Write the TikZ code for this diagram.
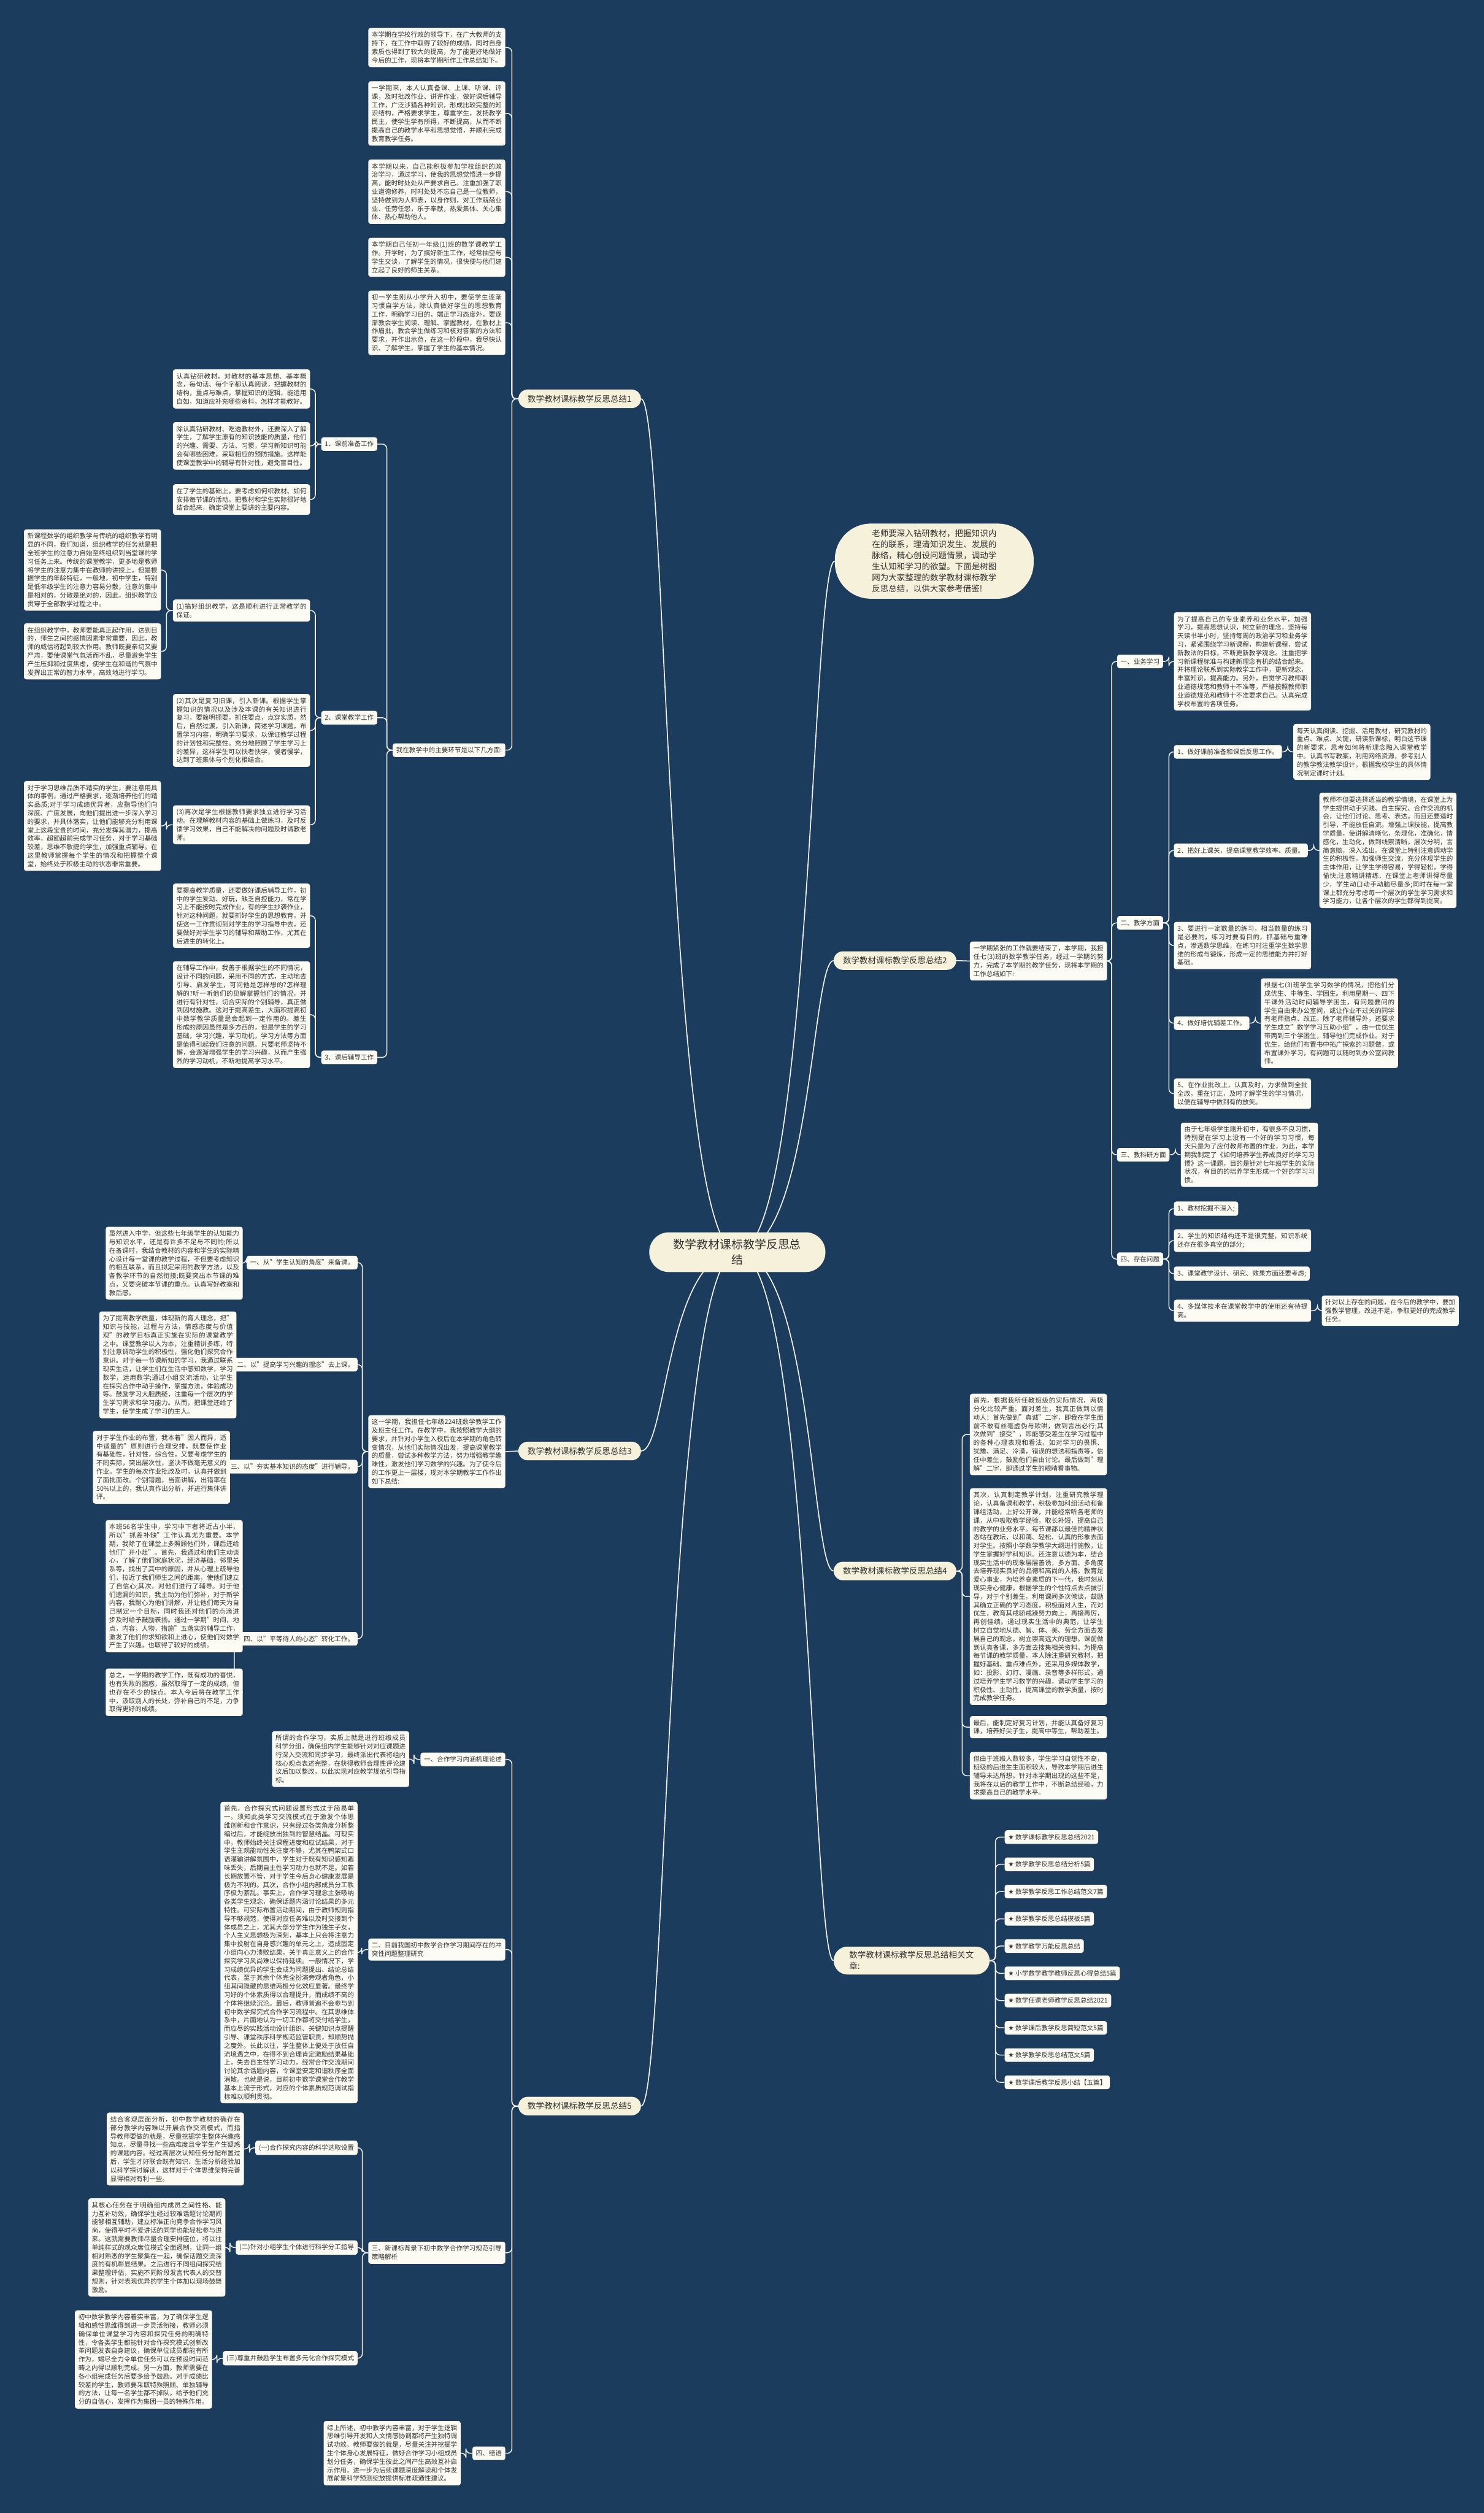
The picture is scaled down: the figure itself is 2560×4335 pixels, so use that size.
\documentclass[tikz,border=0pt]{standalone}
\usepackage{fontspec}
\setmainfont{Noto Sans CJK SC}
\newfontfamily\djv{DejaVu Sans}
\XeTeXlinebreaklocale "zh"
\XeTeXlinebreakskip=0pt plus 1pt
\definecolor{bgc}{HTML}{1B3C5D}
\definecolor{boxc}{HTML}{FCFBF4}
\definecolor{pillc}{HTML}{F6F1DA}
\definecolor{txtc}{HTML}{333333}
\definecolor{linec}{HTML}{F0F0EA}
\pgfdeclarelayer{bgl}
\pgfsetlayers{bgl,main}
\tikzset{
  tbox/.style={fill=boxc, rounded corners=4pt, text=txtc, font=\fontsize{11.2pt}{14.6pt}\selectfont,
    inner xsep=6pt, inner ysep=6.5pt, text width=224.5pt, align=justify},
  tlab/.style={fill=boxc, rounded corners=4pt, text=txtc, font=\fontsize{11.2pt}{14.6pt}\selectfont,
    inner xsep=6pt, inner ysep=6.5pt},
  lpill/.style={fill=pillc, rounded corners=16pt, text=txtc, font=\fontsize{14.3pt}{19pt}\selectfont,
    inner xsep=16pt, inner ysep=4pt, minimum height=32pt},
  rootn/.style={fill=pillc, rounded corners=34pt, text=txtc, font=\fontsize{20pt}{26pt}\selectfont,
    inner xsep=42pt, inner ysep=12pt, align=center},
  cline/.style={draw=linec, line width=1.6pt, rounded corners=8pt},
  curv/.style={draw=linec, line width=1.8pt},
}
\begin{document}
\begin{tikzpicture}[x=1pt,y=-1pt]
\useasboundingbox (0,0) rectangle (2560,4335);
\begin{pgfonlayer}{bgl}
\fill[bgc] (0,0) rectangle (2560,4335);
\end{pgfonlayer}

% ---------- root ----------
\node[rootn] (root) at (1272,2160) {数学教材课标教学反思总\\结};

% ---------- level 1 ----------
\node[lpill, anchor=east] (s1) at (1106,688) {数学教材课标教学反思总结1};
\node[lpill, anchor=east] (s3) at (1106,2503) {数学教材课标教学反思总结3};
\node[lpill, anchor=east] (s5) at (1106,3633) {数学教材课标教学反思总结5};
\node[lpill, anchor=west] (s2) at (1438,1657) {数学教材课标教学反思总结2};
\node[lpill, anchor=west] (s4) at (1438,2710) {数学教材课标教学反思总结4};
\node[fill=pillc, rounded corners=24pt, text=txtc, font=\fontsize{14.3pt}{19pt}\selectfont,
  inner xsep=27pt, inner ysep=8pt, text width=215pt, align=left, anchor=west] (rel) at (1438,3382)
  {数学教材课标教学反思总结相关文章:};
\node[fill=pillc, rounded corners=62pt, text=txtc, font=\fontsize{14.3pt}{19.2pt}\selectfont,
  inner xsep=64pt, inner ysep=10pt, text width=215pt, align=justify, anchor=west] (intro) at (1440,968)
  {老师要深入钻研教材，把握知识内在的联系，理清知识发生、发展的脉络，精心创设问题情景，调动学生认知和学习的欲望。下面是树图网为大家整理的数学教材课标教学反思总结，以供大家参考借鉴!};

% ---------- section 1 ----------
\node[tbox, anchor=north east] (a1) at (872,48) {本学期在学校行政的领导下，在广大教师的支持下，在工作中取得了较好的成绩，同时自身素质也得到了较大的提高，为了能更好地做好今后的工作，现将本学期所作工作总结如下。};
\node[tbox, anchor=north east] (a2) at (872,140) {一学期来，本人认真备课、上课、听课、评课，及时批改作业、讲评作业，做好课后辅导工作，广泛涉猎各种知识，形成比较完整的知识结构，严格要求学生，尊重学生，发扬教学民主，使学生学有所得，不断提高，从而不断提高自己的教学水平和思想觉悟，并顺利完成教育教学任务。};
\node[tbox, anchor=north east] (a3) at (872,275) {本学期以来，自己能积极参加学校组织的政治学习，通过学习，使我的思想觉悟进一步提高，能时时处处从严要求自己。注重加强了职业道德修养，时时处处不忘自己是一位教师，坚持做到为人师表，以身作则，对工作兢兢业业、任劳任怨，乐于奉献，热爱集体、关心集体、热心帮助他人。};
\node[tbox, anchor=north east] (a4) at (872,410) {本学期自己任初一年级(1)班的数学课教学工作。开学时，为了搞好新生工作，经常抽空与学生交谈，了解学生的情况，很快便与他们建立起了良好的师生关系。};
\node[tbox, anchor=north east] (a5) at (872,501) {初一学生刚从小学升入初中，要使学生逐渐习惯自学方法，除认真做好学生的思想教育工作，明确学习目的，端正学习态度外，要逐渐教会学生阅读、理解、掌握教材，在教材上作眉批，教会学生做练习和核对答案的方法和要求，并作出示范，在这一阶段中，我尽快认识、了解学生，掌握了学生的基本情况。};
\node[tlab, anchor=east] (m1) at (872,1294) {我在教学中的主要环节是以下几方面:};
\node[tlab, anchor=east] (b1) at (651,766) {1、课前准备工作};
\node[tlab, anchor=east] (b2) at (651,1238) {2、课堂教学工作};
\node[tlab, anchor=east] (b3) at (651,1824) {3、课后辅导工作};
\node[tbox, anchor=north east] (c11) at (535,637) {认真钻研教材，对教材的基本思想、基本概念，每句话、每个字都认真阅读，把握教材的结构，重点与难点，掌握知识的逻辑，能运用自如，知道应补充哪些资料，怎样才能教好。};
\node[tbox, anchor=north east] (c12) at (535,728) {除认真钻研教材、吃透教材外，还要深入了解学生，了解学生原有的知识技能的质量，他们的兴趣、需要、方法、习惯，学习新知识可能会有哪些困难，采取相应的预防措施。这样能使课堂教学中的辅导有针对性，避免盲目性。};
\node[tbox, anchor=north east] (c13) at (535,835) {在了学生的基础上，要考虑如何织教材、如何安排每节课的活动。把教材和学生实际很好地结合起来，确定课堂上要讲的主要内容。};
\node[tbox, anchor=north east] (c21) at (535,1034) {(1)搞好组织教学，这是顺利进行正常教学的保证。};
\node[tbox, anchor=north east] (c22) at (535,1197) {(2)其次是复习旧课，引入新课。根据学生掌握知识的情况以及涉及本课的有关知识进行复习，要简明扼要，抓住要点，点穿实质，然后，自然过渡，引入新课，简述学习课题，布置学习内容，明确学习要求，以保证教学过程的计划性和完整性。充分地照顾了学生学习上的差异，这样学生可以快者快学，慢者慢学，达到了班集体与个别化相结合。};
\node[tbox, anchor=north east] (c23) at (535,1389) {(3)再次是学生根据教师要求独立进行学习活动。在理解教材内容的基础上做练习，及时反馈学习效果，自己不能解决的问题及时请教老师。};
\node[tbox, anchor=north east] (d1) at (278,913) {新课程数学的组织教学与传统的组织教学有明显的不同，我们知道，组织教学的任务就是把全班学生的注意力自始至终组织到当堂课的学习任务上来。传统的课堂教学，更多地是教师将学生的注意力集中在教师的讲授上，但是根据学生的年龄特征，一般地，初中学生，特别是低年级学生的注意力容易分散，注意的集中是相对的，分散是绝对的，因此，组织教学应贯穿于全部教学过程之中。};
\node[tbox, anchor=north east] (d2) at (278,1075) {在组织教学中，教师要能真正起作用，达到目的，师生之间的感情因素非常重要，因此，教师的威信将起到较大作用。教师既要亲切又要严肃，要使课堂气氛活而不乱，尽量避免学生产生压抑和过度焦虑，使学生在和谐的气氛中发挥出正常的智力水平，高效地进行学习。};
\node[tbox, anchor=north east] (d3) at (278,1347) {对于学习思维品质不踏实的学生，要注意用具体的事例，通过严格要求，逐渐培养他们的踏实品质;对于学习成绩优异者，应指导他们向深度、广度发展，向他们提出进一步深入学习的要求，并具体落实，让他们能够充分利用课堂上这段宝贵的时间，充分发挥其潜力，提高效率，超额超前完成学习任务，对于学习基础较差，思维不敏捷的学生，加强重点辅导。在这里教师掌握每个学生的情况和把握整个课堂，始终处于积极主动的状态非常重要。};
\node[tbox, anchor=north east] (c31) at (535,1524) {要提高教学质量，还要做好课后辅导工作，初中的学生爱动、好玩，缺乏自控能力，常在学习上不能按时完成作业，有的学生抄袭作业，针对这种问题，就要抓好学生的思想教育，并使这一工作贯彻到对学生的学习指导中去，还要做好对学生学习的辅导和帮助工作，尤其在后进生的转化上。};
\node[tbox, anchor=north east] (c32) at (535,1658) {在辅导工作中，我善于根据学生的不同情况，设计不同的问题，采用不同的方式，主动地去引导、启发学生，可问他是怎样想的?怎样理解的?听一听他们的见解掌握他们的情况，并进行有针对性，切合实际的个别辅导，真正做到因材施教。这对于提高差生，大面积提高初中数学教学质量是会起到一定作用的。差生形成的原因虽然是多方西的，但是学生的学习基础，学习兴趣，学习动机，学习方法等方面是值得引起我们注意的问题。只要老师坚持不懈，会逐渐增强学生的学习兴趣，从而产生强烈的学习动机，不断地提高学习水平。};

% ---------- section 3 ----------
\node[tbox, anchor=north east] (n3) at (872,2441) {这一学期，我担任七年级224班数学教学工作及班主任工作。在教学中，我按照教学大纲的要求，并针对小学生入校后在本学期的角色转变情况，从他们实际情况出发，提高课堂教学的质量，尝试多种教学方法，努力增强教学趣味性，激发他们学习数学的兴趣。为了使今后的工作更上一层楼，现对本学期教学工作作出如下总结:};
\node[tlab, anchor=east] (e1) at (617,2178) {一、从"学生认知的角度"来备课。};
\node[tlab, anchor=east] (e2) at (617,2354) {二、以"提高学习兴趣的理念"去上课。};
\node[tlab, anchor=east] (e3) at (617,2530) {三、以"夯实基本知识的态度"进行辅导。};
\node[tlab, anchor=east] (e4) at (617,2827) {四、以"平等待人的心态"转化工作。};
\node[tbox, anchor=north east] (f1) at (419,2116) {虽然进入中学，但这些七年级学生的认知能力与知识水平，还是有许多不足与不同的;所以在备课时，我结合教材的内容和学生的实际精心设计每一堂课的教学过程，不但要考虑知识的相互联系，而且拟定采用的教学方法，以及各教学环节的自然衔接;既要突出本节课的难点，又要突破本节课的重点。认真写好教案和教后感。};
\node[tbox, anchor=north east] (f2) at (408,2262) {为了提高教学质量，体现新的育人理念，把"知识与技能，过程与方法，情感态度与价值观"的教学目标真正实施在实际的课堂教学之中。课堂教学以人为本，注重精讲多练，特别注意调动学生的积极性，强化他们探究合作意识。对于每一节课新知的学习，我通过联系现实生活，让学生们在生活中感知数学，学习数学，运用数学;通过小组交流活动，让学生在探究合作中动手操作，掌握方法，体验成功等。鼓励学习大胆质疑，注重每一个层次的学生学习需求和学习能力。从而，把课堂还给了学生，使学生成了学习的主人。};
\node[tbox, anchor=north east] (f3) at (397,2468) {对于学生作业的布置，我本着"因人而异，适中适量的"原则进行合理安排，既要使作业有基础性，针对性，综合性，又要考虑学生的不同实际，突出层次性，坚决不做毫无意义的作业。学生的每次作业批改及时，认真并做到了面批面改。个别错题，当面讲解，出错率在50\%以上的，我认真作出分析，并进行集体讲评。};
\node[tbox, anchor=north east] (f41) at (419,2622) {本班56名学生中，学习中下者将近占小半，所以"抓差补缺"工作认真尤为重要。本学期，我除了在课堂上多照顾他们外，课后还给他们"开小灶"。首先，我通过和他们主动谈心，了解了他们家庭状况，经济基础，邻里关系等，找出了其中的原因，并从心理上疏导他们，拉近了我们师生之间的距离，使他们建立了自信心;其次，对他们进行了辅导。对于他们遗漏的知识，我主动为他们弥补，对于新学内容，我耐心为他们讲解，并让他们每天为自己制定一个目标，同时我还对他们的点滴进步及时给予鼓励表扬。通过一学期"时间，地点，内容，人物，措施"五落实的辅导工作，激发了他们的求知欲和上进心，使他们对数学产生了兴趣，也取得了较好的成绩。};
\node[tbox, anchor=north east] (f42) at (419,2878) {总之，一学期的教学工作，既有成功的喜悦，也有失败的困惑，虽然取得了一定的成绩，但也存在不少的缺点。本人今后将在教学工作中，汲取别人的长处，弥补自己的不足，力争取得更好的成绩。};

% ---------- section 5 ----------
\node[tlab, anchor=east] (g1) at (872,3035) {一、合作学习内涵机理论述};
\node[tbox, anchor=east, align=left] (g2) at (872,3363) {二、目前我国初中数学合作学习期间存在的冲突性问题整理研究};
\node[tbox, anchor=east, align=left] (g3) at (872,3886) {三、新课标背景下初中数学合作学习规范引导策略解析};
\node[tlab, anchor=east] (g4) at (872,4232) {四、结语};
\node[tbox, anchor=north east] (h1) at (706,2986) {所谓的合作学习，实质上就是进行班级成员科学分组，确保组内学生能够针对对应课题进行深入交流和同步学习，最终派出代表将组内核心观点表述完整，在获得教师合理性评论建议后加以整改，以此实现对应教学规范引导指标。};
\node[tbox, anchor=north east] (h2) at (617,3108) {首先，合作探究式问题设置形式过于简易单一。须知此类学习交流模式在于激发个体思维创新和合作意识，只有经过各类角度分析整编过后，才能绽放出独到的智慧结晶。可现实中，教师始终关注课程进度和应试结果，对于学生主观能动性关注度不够，尤其在鸭架式口语灌输讲解氛围中，学生对于既有知识感知趣味丢失，后期自主性学习动力也就不足。如若长期放置不管，对于学生今后身心健康发展是极为不利的。其次，合作小组内部成员分工秩序极为紊乱。事实上，合作学习理念主张吸纳各类学生观念，确保话题内涵讨论结果的多元特性。可实际布置活动期间，由于教师规则指导不够规范，使得对应任务难以及时交接到个体成员之上，尤其大部分学生作为独生子女，个人主义思想极为深刻，基本上只会将注意力集中投射在自身感兴趣的单元之上，造成固定小组向心力溃败结果，关于真正意义上的合作探究学习风尚难以保持延续。一般情况下，学习成绩优异的学生会成为问题提出、结论总结代表，至于其余个体完全扮演旁观者角色，小组其间隐藏的思维两极分化效应显著。最终学习好的个体素质得以合理提升，而成绩不高的个体将继续沉沦。最后，教师普遍不会参与到初中数学探究式合作学习流程中。在其思维体系中，片面地认为一切工作都将交付给学生，而应尽的实践活动设计组织、关键知识点提醒引导、课堂秩序科学规范监管职责，却顺势抛之度外。长此以往，学生整体上便处于放任自流境遇之中，在得不到合理肯定激励结果基础上，失去自主性学习动力，经常合作交流期间讨论其余话题内容，令课堂安定和谐秩序全面消散。也就是说，目前初中数学课堂合作教学基本上流于形式，对应的个体素质规范调试指标难以顺利贯彻。};
\node[tlab, anchor=east] (k1) at (617,3705) {(一)合作探究内容的科学选取设置};
\node[tlab, anchor=east] (k2) at (617,3877) {(二)针对小组学生个体进行科学分工指导};
\node[tlab, anchor=east] (k3) at (617,4068) {(三)尊重并鼓励学生布置多元化合作探究模式};
\node[tbox, anchor=north east] (kb1) at (421,3644) {结合客观层面分析，初中数学教材的确存在部分教学内容难以开展合作交流模式，而指导教师要做的就是，尽量挖掘学生整体兴趣感知点，尽量寻找一些高难度且令学生产生疑惑的课题内容。经过高层次认知任务分配布置过后，学生才好联合既有知识、生活分析经验加以科学探讨解读，这样对于个体思维架构完善显得相对有利一些。};
\node[tbox, anchor=north east] (kb2) at (389,3792) {其核心任务在于明确组内成员之间性格、能力互补功效，确保学生经过较难话题讨论期间能够相互辅助，建立标准正向竞争合作学习风尚，使得平时不爱讲话的同学也能轻松参与进来。这就需要教师尽量合理安排座位，将以往单纯样式的观众席位模式全面遏制，让同一组相对熟悉的学生聚集在一起，确保话题交流深度的有机彰显结果。之后进行不同组间探究结果整理评估，实施不同阶段发言代表人的交替规则，针对表现优异的学生个体加以现场鼓舞激励。};
\node[tbox, anchor=north east] (kb3) at (366,3985) {初中数学教学内容着实丰富，为了确保学生逻辑和感性思维得到进一步灵活衔接，教师必须确保单位课堂学习内容和探究任务的明确特性，令各类学生都能针对合作探究模式创新改革问题发表自身建议，确保单位成员都能有所作为，竭尽全力令单位任务可以在预设时间范畴之内得以顺利完成。另一方面，教师需要在各小组完成任务后要多给予鼓励。对于成绩比较差的学生，教师要采取特殊照顾、单独辅导的方法，让每一名学生都不掉队，给予他们充分的自信心，发挥作为集团一员的特殊作用。};
\node[tbox, anchor=north east] (gb4) at (795,4176) {综上所述，初中教学内容丰富，对于学生逻辑思维引导开发和人文情感协调都将产生独特调试功效。教师要做的就是，尽量关注并挖掘学生个体身心发展特征，做好合作学习小组成员划分任务，确保学生彼此之间产生高效互补启示作用，进一步为后续课题深度解读和个体发展前景科学预测绽放提供标准疏通性建议。};

% ---------- section 2 ----------
\node[tbox, anchor=north west] (n2) at (1673,1624) {一学期紧张的工作就要结束了，本学期，我担任七(3)班的数学教学任务，经过一学期的努力，完成了本学期的教学任务，现将本学期的工作总结如下:};
\node[tlab, anchor=west] (r1) at (1927,1141) {一、业务学习};
\node[tlab, anchor=west] (r2) at (1927,1592) {二、教学方面};
\node[tlab, anchor=west] (r3) at (1927,1992) {三、教科研方面};
\node[tlab, anchor=west] (r4) at (1927,2172) {四、存在问题};
\node[tbox, anchor=north west] (r1b) at (2025,1056) {为了提高自己的专业素养和业务水平，加强学习，提高思想认识，树立新的理念，坚持每天读书半小时，坚持每周的政治学习和业务学习，紧紧围绕学习新课程，构建新课程，尝试新教法的目标，不断更新教学观念。注重把学习新课程标准与构建新理念有机的结合起来。并将理论联系到实际教学工作中，更新观念，丰富知识，提高能力。另外，自觉学习教师职业道德规范和教师十不准等，严格按照教师职业道德规范和教师十不准要求自己。认真完成学校布置的各项任务。};
\node[tlab, anchor=west] (q1) at (2025,1297) {1、做好课前准备和课后反思工作。};
\node[tlab, anchor=west] (q2) at (2025,1467) {2、把好上课关，提高课堂教学效率、质量。};
\node[tbox, anchor=north west] (q3) at (2025,1590) {3、要进行一定数量的练习，相当数量的练习是必要的，练习时要有目的，抓基础与重难点，渗透数学思维，在练习时注重学生数学思维的形成与锻炼，形成一定的思维能力并打好基础。};
\node[tlab, anchor=west] (q4) at (2025,1765) {4、做好培优辅差工作。};
\node[tbox, anchor=north west] (q5) at (2025,1860) {5、在作业批改上，认真及时，力求做到全批全改，重在订正，及时了解学生的学习情况，以便在辅导中做到有的放矢。};
\node[tbox, anchor=west] (q1b) at (2231,1297) {每天认真阅读、挖掘、活用教材，研究教材的重点、难点、关键，研读新课标，明白这节课的新要求，思考如何将新理念融入课堂教学中。认真书写教案，利用网络资源，参考别人的教学教法教学设计，根据我校学生的具体情况制定课时计划。};
\node[tbox, anchor=west] (q2b) at (2276,1467) {教师不但要选择适当的教学情境，在课堂上为学生提供动手实践、自主探究、合作交流的机会，让他们讨论、思考、表达。而且还要适时引导，不能放任自流。增强上课技能，提高教学质量，使讲解清晰化，条理化，准确化，情感化，生动化，做到线索清晰，层次分明，言简意赅，深入浅出。在课堂上特别注意调动学生的积极性，加强师生交流，充分体现学生的主体作用，让学生学得容易，学得轻松，学得愉快;注意精讲精练，在课堂上老师讲得尽量少，学生动口动手动脑尽量多;同时在每一堂课上都充分考虑每一个层次的学生学习需求和学习能力，让各个层次的学生都得到提高。};
\node[tbox, anchor=west] (q4b) at (2175,1765) {根据七(3)班学生学习数学的情况，把他们分成优生、中等生、学困生。利用星期一、四下午课外活动时间辅导学困生，有问题要问的学生自由来办公室问，或让作业不过关的同学有老师指点、改正。除了老师辅导外，还要求学生成立"数学学习互助小组"，由一位优生带两到三个学困生，辅导他们完成作业。对于优生，给他们布置书中拓广探索的习题做，或布置课外学习，有问题可以随时到办公室问教师。};
\node[tbox, anchor=west] (r3b) at (2037,1992) {由于七年级学生刚升初中，有很多不良习惯，特别是在学习上没有一个好的学习习惯，每天只是为了应付教师布置的作业，为此，本学期我制定了《如何培养学生养成良好的学习习惯》这一课题，目的是针对七年级学生的实际状况，有目的的培养学生形成一个好的学习习惯。};
\node[tlab, anchor=west] (p1) at (2025,2085) {1、教材挖掘不深入;};
\node[tbox, anchor=west] (p2) at (2025,2140) {2、学生的知识结构还不是很完整，知识系统还存在很多真空的部分;};
\node[tlab, anchor=west] (p3) at (2025,2197) {3、课堂教学设计、研究、效果方面还要考虑;};
\node[tbox, anchor=west] (p4) at (2025,2261) {4、多媒体技术在课堂教学中的使用还有待提高。};
\node[tbox, anchor=west] (p4b) at (2280,2261) {针对以上存在的问题，在今后的教学中，要加强教学管理，改进不足，争取更好的完成教学任务。};

% ---------- section 4 ----------
\node[tbox, anchor=north west] (u2) at (1673,2404) {首先，根据我所任教班级的实际情况，两极分化比较严重。面对差生，我真正做到以情动人：首先做到"真诚"二字，即我在学生面前不敢有丝毫虚伪与欺哄，做到言出必行;其次做到"接受"，即能感受差生在学习过程中的各种心理表现和看法，如对学习的畏惧、犹豫、满足、冷漠，错误的想法和指责等，信任中差生，鼓励他们自由讨论。最后做到"理解"二字，即通过学生的眼睛看事物。};
\node[tbox, anchor=north west] (u3) at (1673,2567) {其次，认真制定教学计划，注重研究教学理论，认真备课和教学，积极参加科组活动和备课组活动，上好公开课，并能经常听各老师的课，从中吸取教学经验，取长补短，提高自己的教学的业务水平。每节课都以最佳的精神状态站在教坛，以和蔼、轻松、认真的形象去面对学生。按照小学数学教学大纲进行施教，让学生掌握好学科知识。还注意以德为本，结合现实生活中的现象层层善诱，多方面、多角度去培养现实良好的品德和高尚的人格。教育是爱心事业，为培养高素质的下一代，我时刻从现实身心健康，根据学生的个性特点去点拔引导，对于个别差生，利用课间多次倾谈，鼓励其确立正确的学习态度，积极面对人生，而对优生，教育其戒骄戒躁努力向上，再接再厉，再创佳绩。通过现实生活中的典范，让学生树立自觉地从德、智、体、美、劳全方面去发展自己的观念，树立崇高远大的理想。课前做到认真备课，多方面去搜集相关资料。为提高每节课的教学质量，本人除注重研究教材，把握好基础、重点难点外，还采用多媒体教学，如：投影、幻灯、漫画、录音等多样形式。通过培养学生学习数学的兴趣，调动学生学习的积极性、主动性，提高课堂的教学质量，按时完成教学任务。};
\node[tbox, anchor=north west] (u4) at (1673,2960) {最后，能制定好复习计划，并能认真备好复习课，培养好尖子生，提高中等生，帮助差生。};
\node[tbox, anchor=north west] (u5) at (1673,3022) {但由于班级人数较多，学生学习自觉性不高，班级的后进生生面积较大，导致本学期后进生辅导未达所想。针对本学期出现的这些不足，我将在以后的教学工作中，不断总结经验，力求提高自己的教学水平。};

% ---------- related ----------
\foreach \t [count=\i from 0] in {数学课标教学反思总结2021,数学教学反思总结分析5篇,数学教学反思工作总结范文7篇,数学教学反思总结模板5篇,数学教学万能反思总结,小学数学教学教师反思心得总结5篇,数学任课老师教学反思总结2021,数学课后教学反思简短范文5篇,数学教学反思总结范文5篇,数学课后教学反思小结【五篇】}{
  \node[tlab, anchor=west] (it\i) at (1733,3169+47*\i) {{\djv ★} \t};
}

% ---------- connectors ----------
\begin{pgfonlayer}{bgl}
\draw[curv] (root.center) .. controls (1150,2160) and (1150,688) .. (s1.east);
\draw[curv] (root.center) .. controls (1150,2160) and (1150,2503) .. (s3.east);
\draw[curv] (root.center) .. controls (1150,2160) and (1150,3633) .. (s5.east);
\draw[curv] (root.center) .. controls (1400,2160) and (1400,968) .. (intro.west);
\draw[curv] (root.center) .. controls (1400,2160) and (1400,1657) .. (s2.west);
\draw[curv] (root.center) .. controls (1400,2160) and (1400,2710) .. (s4.west);
\draw[curv] (root.center) .. controls (1400,2160) and (1400,3382) .. (rel.west);
\foreach \c in {a1,a2,a3,a4,a5,m1} \draw[cline] (s1.west) -- ++(-11,0) |- (\c.east);
\foreach \c in {b1,b2,b3} \draw[cline] (m1.west) -- ++(-10,0) |- (\c.east);
\foreach \c in {c11,c12,c13} \draw[cline] (b1.west) -- ++(-10,0) |- (\c.east);
\foreach \c in {c21,c22,c23} \draw[cline] (b2.west) -- ++(-10,0) |- (\c.east);
\foreach \c in {c31,c32} \draw[cline] (b3.west) -- ++(-10,0) |- (\c.east);
\foreach \c in {d1,d2} \draw[cline] (c21.west) -- ++(-11,0) |- (\c.east);
\draw[cline] (c23.west) -- ++(-11,0) |- (d3.east);
\draw[cline] (s3.west) -- (n3.east);
\foreach \c in {e1,e2,e3,e4} \draw[cline] (n3.west) -- ++(-10,0) |- (\c.east);
\draw[cline] (e1.west) -- (f1.east -| e1.west) -- (f1.east);
\draw[cline] (e2.west) -- ++(-10,0) |- (f2.east);
\draw[cline] (e3.west) -- ++(-10,0) |- (f3.east);
\foreach \c in {f41,f42} \draw[cline] (e4.west) -- ++(-10,0) |- (\c.east);
\foreach \c in {g1,g2,g3,g4} \draw[cline] (s5.west) -- ++(-11,0) |- (\c.east);
\draw[cline] (g1.west) -- ++(-11,0) |- (h1.east);
\draw[cline] (g2.west) -- ++(-11,0) |- (h2.east);
\foreach \c in {k1,k2,k3} \draw[cline] (g3.west) -- ++(-10,0) |- (\c.east);
\draw[cline] (k1.west) -- ++(-10,0) |- (kb1.east);
\draw[cline] (k2.west) -- ++(-10,0) |- (kb2.east);
\draw[cline] (k3.west) -- ++(-10,0) |- (kb3.east);
\draw[cline] (g4.west) -- ++(-11,0) |- (gb4.east);
\draw[cline] (s2.east) -- (n2.west);
\foreach \c in {r1,r2,r3,r4} \draw[cline] (n2.east) -- ++(8,0) |- (\c.west);
\draw[cline] (r1.east) -- ++(10,0) |- (r1b.west);
\foreach \c in {q1,q2,q3,q4,q5} \draw[cline] (r2.east) -- ++(10,0) |- (\c.west);
\draw[cline] (q1.east) -- ++(10,0) |- (q1b.west);
\draw[cline] (q2.east) -- ++(10,0) |- (q2b.west);
\draw[cline] (q4.east) -- ++(10,0) |- (q4b.west);
\draw[cline] (r3.east) -- ++(10,0) |- (r3b.west);
\foreach \c in {p1,p2,p3,p4} \draw[cline] (r4.east) -- ++(10,0) |- (\c.west);
\draw[cline] (p4.east) -- ++(11,0) |- (p4b.west);
\foreach \c in {u2,u3,u4,u5} \draw[cline] (s4.east) -- ++(10,0) |- (\c.west);
\foreach \i in {0,...,9} \draw[cline] (rel.east) -- ++(10,0) |- (it\i.west);
\end{pgfonlayer}
\end{tikzpicture}
\end{document}
